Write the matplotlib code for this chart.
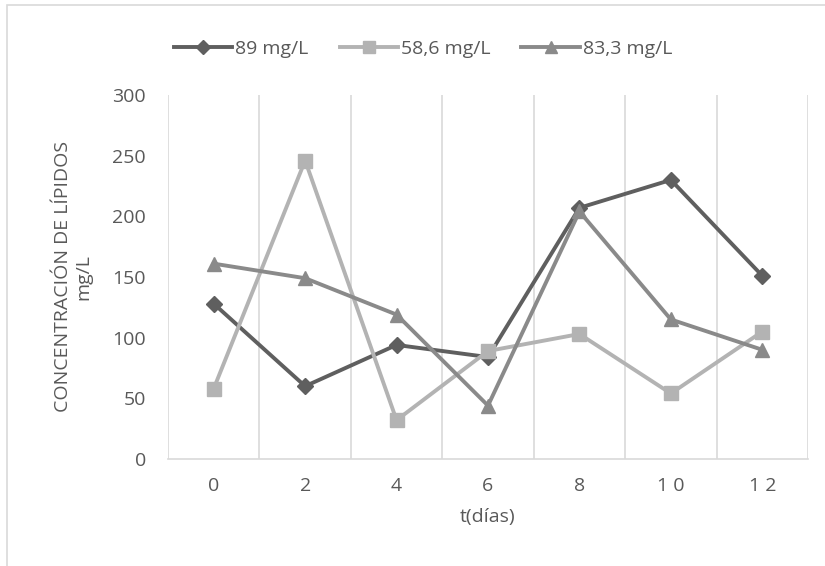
import numpy as np
import matplotlib.pyplot as plt
from matplotlib.patches import Rectangle

# Datos
dias = ['0', '2', '4', '6', '8', '1 0', '1 2']
serie_89 = [128, 60, 94, 84, 207, 230, 151]
serie_58 = [58, 246, 32, 89, 103, 54, 105]
serie_83 = [161, 149, 119, 44, 204, 115, 90]
etiquetas = ['89 mg/L', '58,6 mg/L', '83,3 mg/L']

plt.rcParams['font.family'] = ['Open Sans', 'DejaVu Sans']
gris_texto = '#595959'
W, H = 825, 566

fig = plt.figure(figsize=(W / 100, H / 100), dpi=100)
ax = fig.add_axes([168 / W, 1 - 459 / H, 640 / W, 364 / H])

# Borde exterior del gráfico
fig.patches.append(Rectangle((7 / W, -0.1), 1.2, 1 - 5 / H + 0.1,
                             transform=fig.transFigure, fill=False,
                             edgecolor='#d9d9d9', linewidth=1.2))

x = np.arange(len(dias))
ax.plot(x, serie_89, color='#5f5f5f', linewidth=2.8, marker='D', markersize=8,
        label=etiquetas[0], zorder=3)
ax.plot(x, serie_58, color='#b3b3b3', linewidth=2.8, marker='s', markersize=10,
        label=etiquetas[1], zorder=3)
ax.plot(x, serie_83, color='#8a8a8a', linewidth=2.8, marker='^', markersize=10,
        label=etiquetas[2], zorder=4)

ax.set_xlim(-0.5, len(dias) - 0.5)
ax.set_ylim(0, 300)
ax.set_yticks(np.arange(0, 301, 50))
ax.set_xticks(x)
ax.set_xticklabels(dias)

# Líneas verticales entre categorías
for b in np.arange(-0.5, len(dias), 1.0):
    ax.axvline(b, color='#d9d9d9', linewidth=1.2, zorder=1)

for s in ['top', 'right', 'left']:
    ax.spines[s].set_visible(False)
ax.spines['bottom'].set_color('#d9d9d9')
ax.spines['bottom'].set_linewidth(1.2)
ax.tick_params(axis='both', length=0, colors=gris_texto, labelsize=14)
ax.tick_params(axis='x', pad=13)
ax.tick_params(axis='y', pad=16)

ax.set_xlabel('t(días)', fontsize=14, color=gris_texto, labelpad=9)
fig.text(73 / W, 1 - 277 / H, 'CONCENTRACIÓN DE LÍPIDOS\nmg/L', fontsize=14,
         color=gris_texto, rotation=90, ha='center', va='center',
         multialignment='center', linespacing=1.2)

ax.legend(loc='center', bbox_to_anchor=(0.5 - 65 / 640, 1 + 46 / 364), ncol=3,
          frameon=False, fontsize=14, labelcolor=gris_texto, handlelength=3.0,
          handletextpad=0.15, columnspacing=1.6, markerscale=0.85)

plt.savefig('out.png', dpi=100)
plt.close()
